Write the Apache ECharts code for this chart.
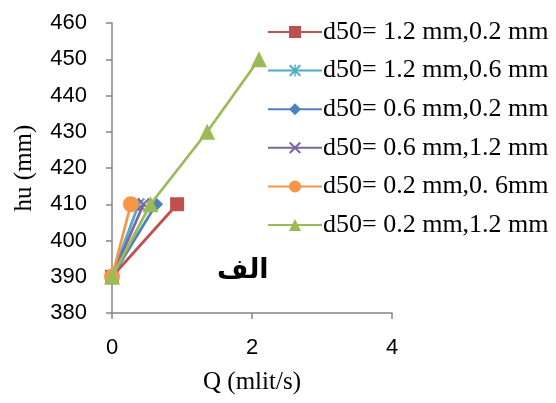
<!DOCTYPE html>
<html><head><meta charset="utf-8">
<script src="https://cdn.jsdelivr.net/npm/echarts@6/dist/echarts.min.js"></script>
<style>html,body{margin:0;padding:0;background:#fff}#c{width:556px;height:403px}</style>
</head><body><div id="c"></div>
<script>
const seriesNames = ['d50= 1.2 mm,0.2 mm','d50= 1.2 mm,0.6 mm','d50= 0.6 mm,0.2 mm','d50= 0.6 mm,1.2 mm','d50= 0.2 mm,0. 6mm','d50= 0.2 mm,1.2 mm'];
const qRed = [0, 0.93];     const huRed = [390, 410];
const qCyan = [0, 0.38];    const huCyan = [390, 410];
const qBlue = [0, 0.63];    const huBlue = [390, 410];
const qPurple = [0, 0.45];  const huPurple = [390, 410];
const qOrange = [0, 0.27];  const huOrange = [390, 410];
const qGreen = [0, 0.55, 1.36, 2.1]; const huGreen = [390, 410, 430, 450];
const xTicks = [0, 2, 4];
const yTicks = [380, 390, 400, 410, 420, 430, 440, 450, 460];

const pairs = (q, h) => q.map((v, i) => [v, h[i]]);
const colors = ['#C0504D','#4BACC6','#4F81BD','#8064A2','#F79646','#9BBB59'];
const XP = 'path://M0,1.2 L1.2,0 L5,3.8 L8.8,0 L10,1.2 L6.2,5 L10,8.8 L8.8,10 L5,6.2 L1.2,10 L0,8.8 L3.8,5 Z';
const AST = 'path://M4.4,0 L5.6,0 L5.6,10 L4.4,10 Z M0,1.2 L1.2,0 L5,3.8 L8.8,0 L10,1.2 L6.2,5 L10,8.8 L8.8,10 L5,6.2 L1.2,10 L0,8.8 L3.8,5 Z';
const symbols = ['rect', AST, 'diamond', XP, 'circle', 'triangle'];
const sizes = [14, 13, 14, 13, 16, 16];
const data = [pairs(qRed,huRed), pairs(qCyan,huCyan), pairs(qBlue,huBlue), pairs(qPurple,huPurple), pairs(qOrange,huOrange), pairs(qGreen,huGreen)];

const chart = echarts.init(document.getElementById('c'), null, {renderer:'canvas'});
chart.setOption({
  animation: false,
  grid: {left: 112, right: 164, top: 23, bottom: 90},
  xAxis: {
    type: 'value', min: 0, max: 4, interval: 2,
    name: 'Q (mlit/s)', nameLocation: 'middle', nameGap: 57,
    nameTextStyle: {fontFamily: 'Liberation Serif', fontSize: 25, color: '#000'},
    axisLine: {lineStyle: {color: '#868686', width: 1.5}},
    axisTick: {show: true, length: 6, lineStyle: {color: '#868686', width: 1.5}},
    axisLabel: {fontFamily: 'Liberation Sans', fontSize: 22, color: '#000', margin: 24, formatter: v => xTicks.includes(v) ? String(v) : ''},
    splitLine: {show: false}
  },
  yAxis: {
    type: 'value', min: 380, max: 460, interval: 10,
    name: 'hu (mm)', nameLocation: 'middle', nameGap: 75, nameRotate: 90,
    nameTextStyle: {fontFamily: 'Liberation Serif', fontSize: 25, color: '#000'},
    axisLine: {show: true, lineStyle: {color: '#868686', width: 1.5}},
    axisTick: {show: true, length: 6, lineStyle: {color: '#868686', width: 1.5}},
    axisLabel: {fontFamily: 'Liberation Sans', fontSize: 22, color: '#000', margin: 25, formatter: v => yTicks.includes(v) ? String(v) : ''},
    splitLine: {show: false}
  },
  legend: {
    orient: 'vertical', left: 262, top: 14, itemGap: 12.6, itemWidth: 54, itemHeight: 15,
    data: seriesNames,
    textStyle: {fontFamily: 'Liberation Serif', fontSize: 26, lineHeight: 26, color: '#000', padding: [0,0,0,-4]},
    backgroundColor: 'transparent'
  },
  graphic: [{
    type: 'text', left: 217, top: 257,
    style: {text: 'الف', font: 'bold 27px "DejaVu Sans"', fill: '#000'}
  }],
  series: data.map((d, i) => ({
    name: seriesNames[i], type: 'line', data: d,
    symbol: symbols[i], symbolSize: sizes[i],
    lineStyle: {color: colors[i], width: 2.75},
    itemStyle: {color: colors[i]},
    z: 2 + i
  }))
});
</script></body></html>
